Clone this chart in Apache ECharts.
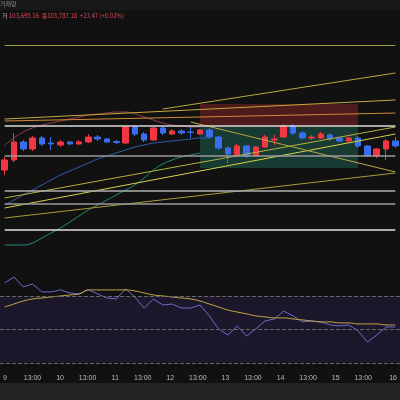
<!DOCTYPE html>
<html>
<head>
<meta charset="utf-8">
<script src="https://cdn.jsdelivr.net/npm/echarts@6/dist/echarts.min.js"></script>
<style>
html,body{margin:0;padding:0;background:#111;}
#chart{width:400px;height:400px;}
</style>
</head>
<body>
<div id="chart"></div>
<script>
// 캔들 데이터 [시가, 종가, 저가, 고가]
var candles = [
	[103300,103400,103250,103430],[103400,103580,103380,103670],[103580,103510,103490,103600],
	[103510,103620,103490,103640],[103620,103560,103540,103640],[103570,103560,103500,103630],
	[103550,103580,103530,103600],[103580,103560,103550,103590],[103560,103580,103550,103600],
	[103580,103630,103570,103660],[103630,103610,103590,103650],[103610,103580,103570,103620],
	[103585,103575,103560,103600],[103570,103730,103560,103740],[103730,103660,103640,103750],
	[103660,103600,103580,103680],[103600,103720,103590,103730],[103720,103670,103650,103740],
	[103660,103690,103650,103710],[103690,103670,103650,103710],[103680,103675,103620,103740],
	[103660,103700,103650,103710],[103700,103630,103610,103720],[103630,103520,103500,103640],
	[103520,103460,103370,103540],[103450,103540,103430,103560],[103540,103440,103420,103550],
	[103440,103530,103430,103540],[103530,103630,103520,103650],[103600,103610,103550,103650],
	[103630,103740,103620,103760],[103740,103670,103650,103760],[103670,103620,103610,103690],
	[103620,103630,103600,103650],[103620,103660,103610,103680],[103650,103610,103590,103670],
	[103620,103590,103580,103630],[103590,103620,103580,103630],[103620,103540,103520,103640],
	[103540,103440,103430,103550],[103440,103510,103420,103520],[103510,103590,103400,103610],
	[103590,103540,103520,103630]
];
var bbUpper = [103550,103620,103680,103720,103750,103770,103790,103810,103830,103850,103860,103870,103880,103880,103860,103830,103800,103770,103750,103740,103730,103730];
var bbMid = [102950,103000,103050,103100,103150,103200,103250,103290,103330,103370,103410,103440,103470,103500,103530,103550,103570,103580,103590,103600,103610,103620,103620];
var bbLower = [102550,102550,102550,102570,102620,102670,102720,102780,102840,102900,102950,103000,103050,103100,103150,103220,103300,103360,103400,103430,103450,103470];
var rsi = [77.8,81.3,75.4,77.2,72.4,72.4,73.6,71.8,71.2,73.6,71.2,68.8,68.2,74.2,69.4,62.8,68.2,64.6,65.2,62.8,62.8,64.6,58.1,50.3,46.7,52.1,46.1,50.3,55.1,56.3,61.0,58.1,54.5,55.1,54.5,52.7,52.1,52.7,49.1,42.5,46.7,51.5,51.5];
var rsiSignal = [63.4,65.2,67.0,68.2,68.8,69.4,70,70.6,71.2,73.6,73.6,73.6,73.6,73.6,73.0,71.8,70.6,70,69.4,68.8,68.2,67.0,65.2,63.4,61.6,60.4,59.3,58.1,57.5,56.9,56.9,56.3,55.7,55.1,54.5,54.5,53.9,53.9,53.3,53.3,53.3,52.7,52.7];
var timeLabels = ['9','13:00','10','13:00','11','13:00','12','13:00','13','13:00','14','13:00','15','13:00','16'];
// 추세선 [시작 idx, 가격, 끝 idx, 가격, 색]
var trendLines = [
	[0,104550,42,104550,'#a59a3c'],
	[17,103910,42,104270,'#b8a83a'],
	[0,103810,42,104000,'#c9a640'],
	[0,103790,42,103870,'#d08a3a'],
	[0,102920,42,103660,'#d6d24a'],
	[0,103020,42,103730,'#b6b040'],
	[0,102820,42,103270,'#a89b3a'],
	[20,103780,42,103280,'#b9a540']
];
var hLines = [[103740,'#d8d8d8'],[103440,'#9a9a9a'],[103090,'#b0b0b0'],[102960,'#9a9a9a'],[102700,'#e0e0e0']];

var idx = candles.map(function(c, i) { return i; });
var chart = echarts.init(document.getElementById('chart'));

var markLines = [];
trendLines.forEach(function(t) {
	markLines.push([{coord: [t[0], t[1]], lineStyle: {color: t[4], width: 1, type: 'solid'}}, {coord: [t[2], t[3]]}]);
});
hLines.forEach(function(h) {
	markLines.push([{coord: [0, h[0]], lineStyle: {color: h[1], width: 1.5, type: 'solid'}}, {coord: [42, h[0]]}]);
});

chart.setOption({
	backgroundColor: '#111',
	animation: false,
	graphic: [
		{type: 'rect', shape: {x: 0, y: 0, width: 400, height: 10}, style: {fill: '#181818'}},
		{type: 'text', left: 0, top: 1, style: {text: '거래량', fill: '#888', font: '6px "Noto Sans CJK KR"'}},
		{type: 'text', left: 2, top: 13, style: {text: '저', fill: '#aaa', font: '6px "Noto Sans CJK KR"'}},
		{type: 'text', left: 9, top: 13, style: {text: '103,695.16  종103,787.18  +23.47 (+0.02%)', fill: '#e0455a', font: '6px "Noto Sans CJK KR"'}},
		{type: 'rect', shape: {x: 0, y: 383, width: 400, height: 17}, style: {fill: '#232323'}}
	],
	grid: [
		{left: -3, width: 407, top: 20, height: 248},
		{left: -3, width: 407, top: 270, height: 100},
		{left: 0, width: 400, top: 270, height: 100}
	],
	xAxis: [
		{type: 'category', gridIndex: 0, data: idx, show: false},
		{type: 'category', gridIndex: 1, data: idx, show: false},
		{type: 'value', gridIndex: 2, min: 0, max: 400, interval: 28.4,
			axisLine: {show: false}, axisTick: {show: false}, splitLine: {show: false},
			axisLabel: {color: '#bbb', fontSize: 7, margin: 5, showMaxLabel: true,
				formatter: function(v) { return timeLabels[Math.round(v / 28.4)] || ''; }}}
	],
	yAxis: [
		{type: 'value', gridIndex: 0, min: 102320, max: 104800, show: false},
		{type: 'value', gridIndex: 1, min: 25.8, max: 85.5, show: false},
		{type: 'value', gridIndex: 2, show: false}
	],
	series: [{
		type: 'candlestick', xAxisIndex: 0, yAxisIndex: 0, barWidth: 6, data: candles,
		itemStyle: {color: '#f23645', color0: '#3a6df0', borderColor: '#f23645', borderColor0: '#3a6df0'},
		markArea: {silent: true, data: [
			[{coord: [20.7, 103960], itemStyle: {color: 'rgba(150,40,40,0.45)'}}, {coord: [37.6, 103730]}],
			[{coord: [20.7, 103730], itemStyle: {color: 'rgba(30,110,90,0.45)'}}, {coord: [37.6, 103320]}]
		]},
		markLine: {silent: true, symbol: 'none', label: {show: false}, lineStyle: {type: 'solid'}, data: markLines}
	}, {
		type: 'line', xAxisIndex: 0, yAxisIndex: 0, data: bbUpper, symbol: 'none', smooth: true,
		lineStyle: {color: '#9a3b4a', width: 1}
	}, {
		type: 'line', xAxisIndex: 0, yAxisIndex: 0, data: bbMid, symbol: 'none', smooth: true,
		lineStyle: {color: '#2f5fb0', width: 1}
	}, {
		type: 'line', xAxisIndex: 0, yAxisIndex: 0, data: bbLower, symbol: 'none', smooth: true,
		lineStyle: {color: '#2a8a80', width: 1}
	}, {
		type: 'line', xAxisIndex: 1, yAxisIndex: 1, data: rsi, symbol: 'none',
		lineStyle: {color: '#6c6ad0', width: 1},
		markArea: {silent: true, data: [[{yAxis: 70, itemStyle: {color: 'rgba(60,40,110,0.28)'}}, {yAxis: 30}]]},
		markLine: {silent: true, symbol: 'none', label: {show: false},
			lineStyle: {color: '#666', type: 'dashed', width: 1},
			data: [{yAxis: 70}, {yAxis: 50}, {yAxis: 30}]}
	}, {
		type: 'line', xAxisIndex: 1, yAxisIndex: 1, data: rsiSignal, symbol: 'none', smooth: true,
		lineStyle: {color: '#c8a848', width: 1}
	}]
});
</script>
</body>
</html>
